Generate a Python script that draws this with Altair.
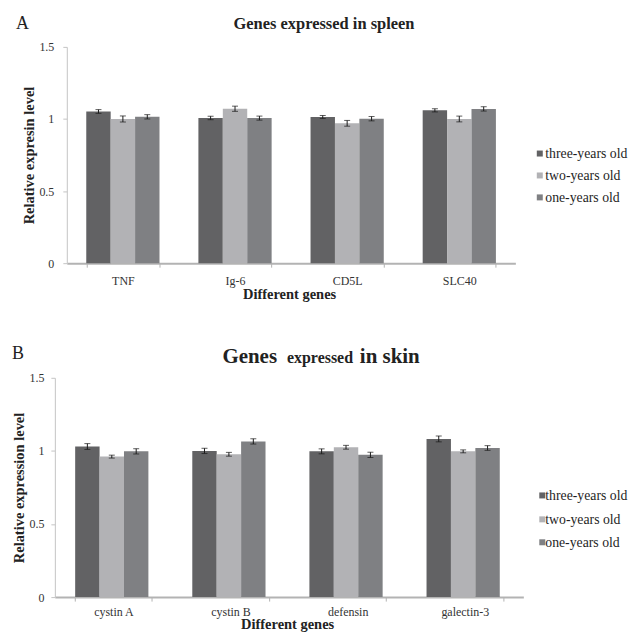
import altair as alt
import pandas as pd

FONT = "Liberation Serif, Times New Roman, serif"

# Series / colours
series = ["three-years old", "two-years old", "one-years old"]
colors = ["#626264", "#b2b2b5", "#7f8083"]

# Panel A: spleen
genes_spleen = ["TNF", "Ig-6", "CD5L", "SLC40"]
spleen_three = [1.052, 1.007, 1.014, 1.060]
spleen_two = [1.000, 1.071, 0.970, 1.000]
spleen_one = [1.015, 1.006, 1.002, 1.070]
spleen_three_err = [0.013, 0.012, 0.010, 0.011]
spleen_two_err = [0.021, 0.018, 0.020, 0.020]
spleen_one_err = [0.015, 0.014, 0.015, 0.015]

# Panel B: skin
genes_skin = ["cystin A", "cystin B", "defensin", "galectin-3"]
skin_three = [1.030, 1.000, 0.997, 1.082]
skin_two = [0.961, 0.977, 1.025, 0.997]
skin_one = [0.997, 1.065, 0.973, 1.020]
skin_three_err = [0.020, 0.018, 0.017, 0.020]
skin_two_err = [0.010, 0.013, 0.013, 0.010]
skin_one_err = [0.018, 0.018, 0.018, 0.016]

y_ticks = [0, 0.5, 1, 1.5]


def make_df(genes, vals, errs):
    rows = []
    for s, v_list, e_list in zip(series, vals, errs):
        for g, v, e in zip(genes, v_list, e_list):
            rows.append({"gene": g, "series": s, "value": v, "lo": v - e, "hi": v + e})
    return pd.DataFrame(rows)


df_spleen = make_df(genes_spleen, [spleen_three, spleen_two, spleen_one],
                    [spleen_three_err, spleen_two_err, spleen_one_err])
df_skin = make_df(genes_skin, [skin_three, skin_two, skin_one],
                  [skin_three_err, skin_two_err, skin_one_err])


def panel(df, genes, W, H, x0, ytitle, y_title_x, x_title_y, label_pad_y, label_pad_x):
    # x0: inset of the axes from the left edge of the view
    x_axis = alt.Axis(tickBand="extent", domainColor="#b3b3b3", domainWidth=2,
                      tickColor="#b3b3b3", tickSize=4, tickWidth=1,
                      labelPadding=label_pad_x, labelAngle=0, labelFont=FONT,
                      labelFontSize=12, labelColor="#333",
                      title="Different genes", titleFont=FONT, titleFontSize=14.5,
                      titleFontWeight="bold", titleColor="#222",
                      titleX=x0 + (W - x0) / 2 - 2, titleY=x_title_y,
                      titleBaseline="alphabetic")
    y_axis = alt.Axis(values=y_ticks, format="~g", grid=False, domainColor="#c4c4c4",
                      domainWidth=1, tickColor="#c4c4c4", tickSize=4, offset=-x0,
                      labelPadding=label_pad_y, labelFont=FONT, labelFontSize=12,
                      labelColor="#333", title=ytitle, titleFont=FONT,
                      titleFontSize=14.5, titleFontWeight="bold", titleColor="#222",
                      titleX=y_title_x, titleY=H / 2, titleBaseline="alphabetic")
    xs = alt.Scale(paddingInner=0.347, paddingOuter=0.1735, range=[x0, W])
    x = alt.X("gene:N", sort=genes, scale=xs, axis=x_axis)
    xo = alt.XOffset("series:N", sort=series,
                     scale=alt.Scale(paddingInner=0, paddingOuter=0))
    ys = alt.Scale(domain=[0, 1.5])
    base = alt.Chart(df)
    bars = base.mark_bar().encode(
        x=x, xOffset=xo,
        y=alt.Y("value:Q", scale=ys, axis=y_axis),
        color=alt.Color("series:N", sort=series,
                        scale=alt.Scale(domain=series, range=colors), legend=None),
    )
    rule = base.mark_rule(color="#1a1a1a", strokeWidth=1).encode(
        x=x, xOffset=xo,
        y=alt.Y("lo:Q", scale=ys, axis=y_axis), y2="hi:Q")
    cap_lo = base.mark_tick(color="#1a1a1a", size=6, thickness=1).encode(
        x=x, xOffset=xo, y=alt.Y("lo:Q", scale=ys, axis=y_axis))
    cap_hi = base.mark_tick(color="#1a1a1a", size=6, thickness=1).encode(
        x=x, xOffset=xo, y=alt.Y("hi:Q", scale=ys, axis=y_axis))
    return [bars, rule, cap_lo, cap_hi]


def text_layer(txt, x, y, size, weight="bold", align="left", baseline="alphabetic",
               color="#222"):
    return alt.Chart(pd.DataFrame({"t": [txt]})).mark_text(
        font=FONT, fontSize=size, fontWeight=weight, align=align,
        baseline=baseline, color=color).encode(
        text="t:N", x=alt.value(x), y=alt.value(y))


def legend_layers(sq_x, txt_x, ys, size):
    out = []
    for name, col, yy in zip(series, colors, ys):
        out.append(alt.Chart(pd.DataFrame({"t": [name]})).mark_square(
            size=36, color=col, opacity=1).encode(x=alt.value(sq_x), y=alt.value(yy)))
        out.append(text_layer(name, txt_x, yy + 0.5, size, weight="normal",
                              baseline="middle", color="#1e1e1e"))
    return out


def marker(x, y):
    # invisible layout anchor
    return alt.Chart(pd.DataFrame({"m": [0]})).mark_rule(color="white", strokeWidth=0.5).encode(
        x=alt.value(x), x2=alt.value(x + 1), y=alt.value(y))


# common view origin at page x = 54; top panel axes inset by 12 px (page 66)
# ---- top panel (axes at page 66,45) ----
W1, H1, X1 = 462, 217, 12
top_layers = panel(df_spleen, genes_spleen, W1, H1, X1, "Relative expresin level",
                   y_title_x=-33, x_title_y=35, label_pad_y=9, label_pad_x=8)
top_layers += legend_layers(486.5, 492, [107, 129, 151], 13.8)
top_layers += [
    text_layer("A", -39, -18, 18, weight="normal"),
    text_layer("Genes expressed in spleen", 270, -18, 16.5, align="center"),
    marker(-46, -37),
    marker(-46, 260),
]
top = alt.layer(*top_layers).properties(width=W1, height=H1)

# ---- bottom panel (axes at page 54,377) ----
W2, H2 = 470, 220
bot_layers = panel(df_skin, genes_skin, W2, H2, 0, "Relative expression level",
                   y_title_x=-31, x_title_y=31, label_pad_y=7, label_pad_x=5)
bot_layers += legend_layers(489, 492, [118, 142, 165], 13.8)
bot_layers += [
    text_layer("B", -43, -19, 18, weight="normal"),
    text_layer("Genes", 195.5, -14.5, 21, align="center"),
    text_layer("expressed", 266, -14.5, 16, align="center"),
    text_layer("in skin", 336, -14.5, 21, align="center"),
    marker(-46, -70),
]
bottom = alt.layer(*bot_layers).properties(width=W2, height=H2)

chart = alt.vconcat(top, bottom, spacing=0).resolve_scale(
    color="independent").properties(padding=0).configure_view(stroke=None)

chart.save("out.html", embed_options={"renderer": "svg", "actions": False})
